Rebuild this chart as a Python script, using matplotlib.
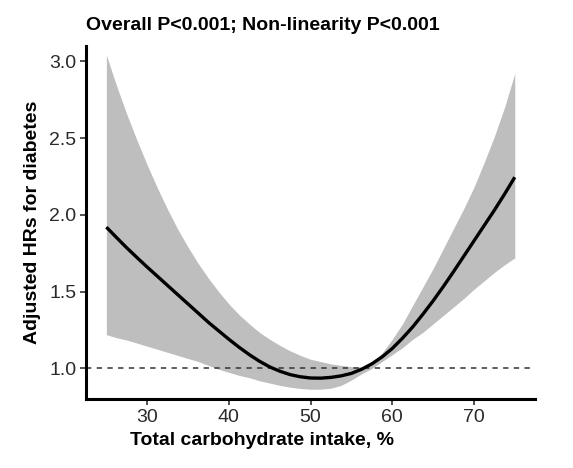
import matplotlib
matplotlib.use("Agg")
import matplotlib.pyplot as plt

plt.rcParams["font.family"] = ["Liberation Sans", "DejaVu Sans"]

# Spline estimate and 95% CI, every 1.25 %
carb = [25, 26.25, 27.5, 28.75, 30, 31.25, 32.5, 33.75, 35, 36.25, 37.5,
        38.75, 40, 41.25, 42.5, 43.75, 45, 46.25, 47.5, 48.75, 50,
        51.25, 52.5, 53.75, 55, 56.25, 57.5, 58.75, 60, 61.25, 62.5,
        63.75, 65, 66.25, 67.5, 68.75, 70, 71.25, 72.5, 73.75, 75]
hr = [1.92, 1.852, 1.785, 1.722, 1.66, 1.60, 1.54, 1.48, 1.42, 1.36, 1.30,
      1.245, 1.19, 1.138, 1.09, 1.047, 1.01, 0.982, 0.96, 0.946, 0.938,
      0.937, 0.942, 0.952, 0.968, 0.995, 1.03, 1.075, 1.13, 1.197, 1.27,
      1.353, 1.44, 1.533, 1.63, 1.73, 1.83, 1.93, 2.03, 2.135, 2.245]
hr_upper = [3.04, 2.84, 2.655, 2.485, 2.325, 2.175, 2.035, 1.905, 1.79, 1.683, 1.587,
            1.50, 1.42, 1.35, 1.29, 1.235, 1.19, 1.15, 1.115, 1.085, 1.06,
            1.045, 1.03, 1.02, 1.012, 1.01, 1.04, 1.10, 1.19, 1.29, 1.41,
            1.53, 1.65, 1.78, 1.91, 2.04, 2.18, 2.34, 2.51, 2.70, 2.92]
hr_lower = [1.22, 1.20, 1.185, 1.165, 1.145, 1.125, 1.105, 1.085, 1.065, 1.045, 1.02,
            0.995, 0.975, 0.955, 0.94, 0.92, 0.905, 0.89, 0.878, 0.87, 0.865,
            0.865, 0.872, 0.89, 0.925, 0.965, 1.0, 1.045, 1.09, 1.135, 1.19,
            1.235, 1.29, 1.345, 1.40, 1.455, 1.515, 1.57, 1.625, 1.675, 1.72]

xticks = [30, 40, 50, 60, 70]
yticks = [1.0, 1.5, 2.0, 2.5, 3.0]

fig = plt.figure(figsize=(5.73, 4.68), dpi=100)
ax = fig.add_axes([0.150, 0.147, 0.784, 0.755])

ax.fill_between(carb, hr_lower, hr_upper, color="#bebebe", linewidth=0, zorder=1)
ax.plot(carb, hr, color="black", linewidth=2.4, zorder=3, solid_capstyle="butt")
ax.axhline(1.0, color="#333333", linestyle=(0, (3.5, 3.5)), linewidth=1.1, zorder=2)

ax.set_xlim(22.5, 77.5)
ax.set_ylim(0.80, 3.10)
ax.set_xticks(xticks)
ax.set_yticks(yticks)
ax.set_yticklabels([f"{v:.1f}" for v in yticks])

for s in ["top", "right"]:
    ax.spines[s].set_visible(False)
for s in ["left", "bottom"]:
    ax.spines[s].set_linewidth(2.2)
ax.tick_params(axis="both", length=4, width=1.2, color="#333333",
               labelsize=14, labelcolor="#2a2a2a", pad=3)

ax.set_ylabel("Adjusted HRs for diabetes", fontsize=14, fontweight="bold", labelpad=6)
ax.set_xlabel("Total carbohydrate intake, %", fontsize=14, fontweight="bold")
ax.xaxis.set_label_coords(0.392, -0.093)

fig.text(263 / 573, 1 - 26 / 468, "Overall P<0.001; Non-linearity P<0.001",
         ha="center", va="center", fontsize=14, fontweight="bold")

fig.savefig("out.png", dpi=100)
